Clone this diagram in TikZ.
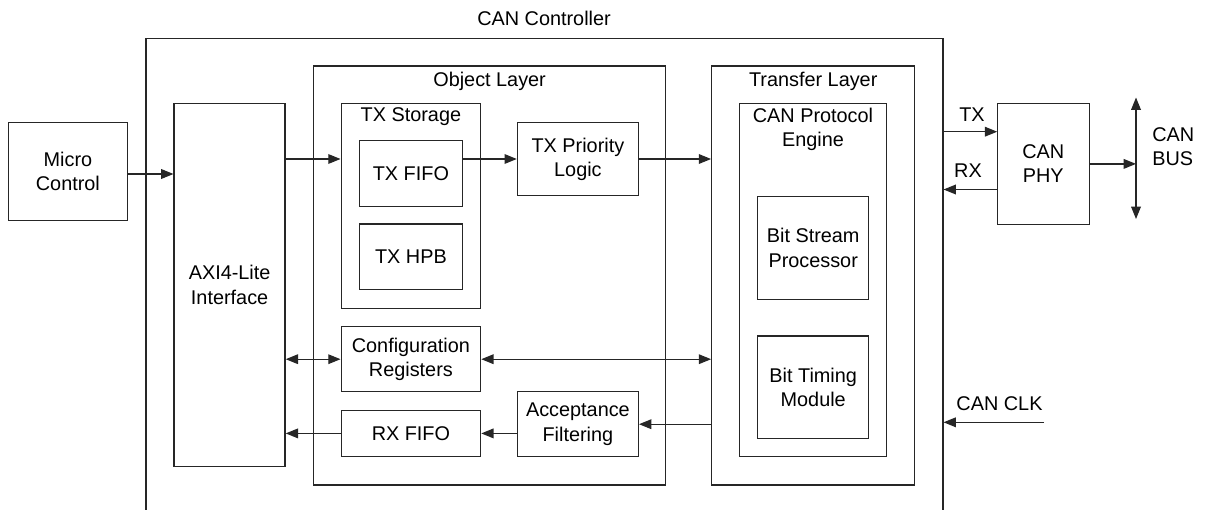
\documentclass[tikz,border=0pt]{standalone}
\usepackage{fontspec}
\setmainfont{Liberation Sans}
\usetikzlibrary{arrows.meta, positioning}

\newcommand{\canfont}{\fontsize{11.3pt}{13.8pt}\selectfont}

\begin{document}
\begin{tikzpicture}[x=0.02cm, y=-0.02cm,
    box/.style={draw=black!85, line width=0.7pt, inner sep=0pt, align=center, font=\canfont},
    ttl/.style={inner sep=0pt, align=center, font=\canfont},
    txt/.style={inner sep=0pt, align=center, font=\canfont},
    arr/.style={draw=black!85, line width=0.7pt, -{Triangle[length=7pt,width=5.5pt]}},
    darr/.style={draw=black!85, line width=0.7pt, {Triangle[length=7pt,width=5.5pt]}-{Triangle[length=7pt,width=5.5pt]}}]

        % Khung hình
        \clip (0,0) rectangle (1206,510);

        % Khối ngoài
        \node[box, minimum width=15.94cm, minimum height=10.03cm] (ctrl) at (544.5,289.2) {};
        \node[txt] (ctrlttl) at (544,18.3) {CAN Controller};
        \node[box, minimum width=2.38cm, minimum height=1.97cm] (micro) at (67.9,171.5) {Micro\\Control};
        \node[box, minimum width=1.84cm, minimum height=2.41cm] (phy) at (1043.2,163.9) {CAN\\PHY};

        % Giao diện AXI
        \node[box, minimum width=2.22cm, minimum height=7.25cm] (axi) at (229.6,284.9) {AXI4-Lite\\Interface};

        % Object Layer
        \node[box, minimum width=7.05cm, minimum height=8.38cm] (obj) at (489.6,275.5) {};
        \node[ttl, below=3.6pt of obj.north] (objttl) {Object Layer};
        \node[box, minimum width=2.79cm, minimum height=4.09cm] (txst) at (410.9,206) {};
        \node[ttl, below=2.5pt of txst.north] (txstttl) {TX Storage};
        \node[box, minimum width=2.06cm, minimum height=1.31cm] (txfifo) at (410.9,173.4) {TX FIFO};
        \node[box, minimum width=2.06cm, minimum height=1.31cm] (txhpb) at (410.9,256.7) {TX HPB};
        \node[box, minimum width=2.42cm, minimum height=1.47cm] (txpri) at (577.9,159) {TX Priority\\Logic};
        \node[box, minimum width=2.79cm, minimum height=1.3cm] (cfg) at (410.9,359.2) {Configuration\\Registers};
        \node[box, minimum width=2.79cm, minimum height=0.93cm] (rxfifo) at (410.9,433.4) {RX FIFO};
        \node[box, minimum width=2.42cm, minimum height=1.3cm] (accept) at (577.9,424.2) {Acceptance\\Filtering};

        % Transfer Layer
        \node[box, minimum width=4.06cm, minimum height=8.38cm] (xfer) at (813.2,275.5) {};
        \node[ttl, below=3.6pt of xfer.north] (xferttl) {Transfer Layer};
        \node[box, minimum width=2.95cm, minimum height=7.06cm] (cpe) at (813,280.2) {};
        \node[ttl, below=2.5pt of cpe.north] (cpettl) {CAN Protocol\\Engine};
        \node[box, minimum width=2.22cm, minimum height=2.05cm] (bsp) at (813.2,247.9) {Bit Stream\\Processor};
        \node[box, minimum width=2.22cm, minimum height=2.05cm] (btm) at (813.2,387.2) {Bit Timing\\Module};

        % Điểm nối phía phải
        \coordinate (txin) at (997.2,131.7);
        \coordinate (rxout) at (997.2,189.5);
        \coordinate (clk) at (1044,422.3);
        \coordinate (bustop) at (1136,97.5);
        \coordinate (busbot) at (1136,219);

        % Các mũi tên bên trong
        \draw[arr] (micro.east |- 0,174) -- (axi.west |- 0,174);
        \draw[arr] (axi.east |- txpri) -- (txst.west |- txpri);
        \draw[arr] (txfifo.east |- txpri) -- (txpri.west);
        \draw[arr] (txpri.east) -- (xfer.west |- txpri);
        \draw[darr] (axi.east |- cfg) -- (cfg.west);
        \draw[darr] (cfg.east) -- (xfer.west |- cfg);
        \draw[arr] (xfer.west |- accept) -- (accept.east);
        \draw[arr] (accept.west |- rxfifo) -- (rxfifo.east);
        \draw[arr] (rxfifo.west) -- (axi.east |- rxfifo);

        % TX, RX, CAN CLK
        \draw[arr] (ctrl.east |- txin) -- (txin);
        \node[txt] (txlbl) at (972,115) {TX};
        \draw[arr] (rxout) -- (ctrl.east |- rxout);
        \node[txt] (rxlbl) at (968,171) {RX};
        \draw[arr] (clk) -- (ctrl.east |- clk);
        \node[txt] (clklbl) at (999.5,404) {CAN CLK};

        % CAN bus
        \draw[darr] (bustop) -- (busbot);
        \draw[arr] (phy.east) -- (phy.east -| bustop);
        \node[txt, anchor=west, align=left] (buslbl) at (1152,147) {CAN\\BUS};

\end{tikzpicture}
\end{document}
